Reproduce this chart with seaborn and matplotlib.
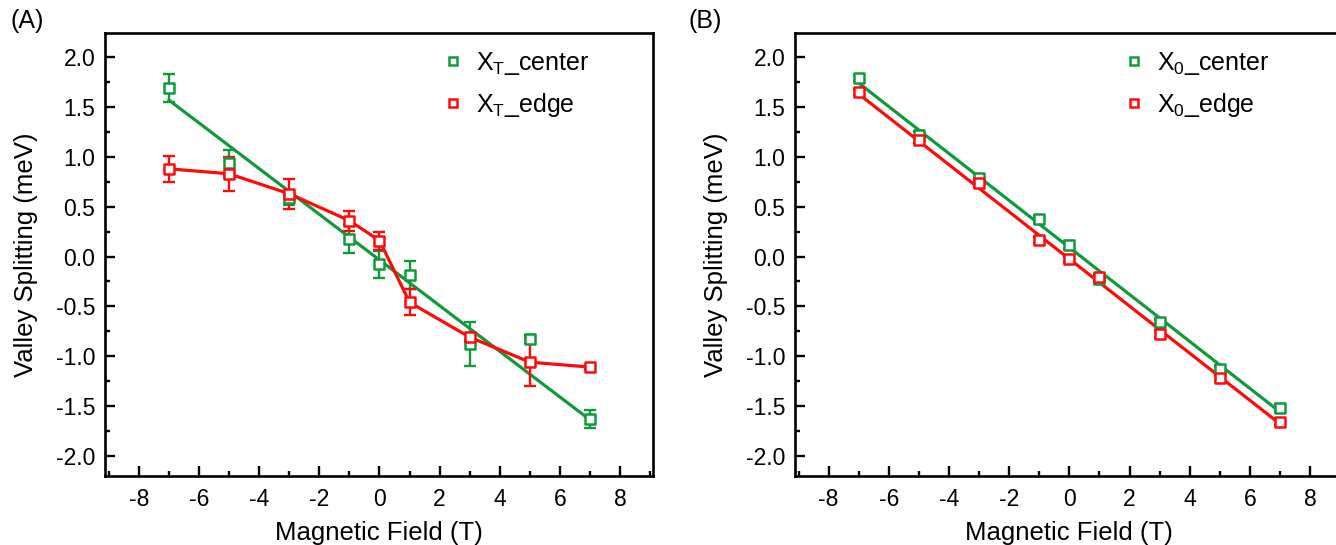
"""
Valley splitting vs magnetic field, trion (A) and exciton (B).
"""

import matplotlib.pyplot as plt
import numpy as np
import pandas as pd
import seaborn as sns
from matplotlib.lines import Line2D
from matplotlib.ticker import MultipleLocator

sns.set_style("ticks")
plt.rcParams["font.family"] = ["Liberation Sans", "DejaVu Sans"]
plt.rcParams["mathtext.fontset"] = "custom"
plt.rcParams["mathtext.rm"] = "Liberation Sans"
plt.rcParams["axes.edgecolor"] = "black"
plt.rcParams["text.color"] = "black"
plt.rcParams["axes.labelcolor"] = "black"
plt.rcParams["xtick.color"] = "black"
plt.rcParams["ytick.color"] = "black"

green = "#109A3B"
red = "#FF0A0A"

# data
field = [-7, -5, -3, -1, 0, 1, 3, 5, 7]

xt_center = [1.69, 0.94, 0.59, 0.18, -0.08, -0.19, -0.88, -0.83, -1.63]
xt_center_err = [0.14, 0.13, 0.07, 0.14, 0.14, 0.14, 0.22, 0.04, 0.09]
xt_edge = [0.88, 0.83, 0.63, 0.36, 0.16, -0.46, -0.81, -1.06, -1.11]
xt_edge_err = [0.13, 0.17, 0.15, 0.10, 0.09, 0.13, 0.04, 0.24, 0.02]

x0_center = [1.79, 1.22, 0.79, 0.38, 0.12, -0.23, -0.66, -1.13, -1.52]
x0_center_err = [0.03, 0.04, 0.04, 0.03, 0.04, 0.05, 0.03, 0.03, 0.04]
x0_edge = [1.65, 1.17, 0.74, 0.17, -0.03, -0.21, -0.78, -1.22, -1.66]
x0_edge_err = [0.03, 0.03, 0.04, 0.03, 0.03, 0.03, 0.04, 0.03, 0.03]

# linear fits (end points)
fit_x = [-7, 7]
xt_center_fit = [1.57, -1.64]
x0_center_fit = [1.74, -1.56]
x0_edge_fit = [1.63, -1.68]

fig = plt.figure(figsize=(13.36, 5.45), dpi=100)
ax_a = fig.add_axes([0.0786, 0.127, 0.41, 0.812])
ax_b = fig.add_axes([0.595, 0.127, 0.41, 0.812])


def points(ax, y, err, color):
    ax.errorbar(field, y, yerr=err, fmt="none", ecolor=color, elinewidth=1.7,
                capsize=4.5, capthick=1.7, zorder=3)
    sns.scatterplot(x=field, y=y, ax=ax, marker="s", s=55, facecolor="white",
                    edgecolor=color, linewidth=1.8, zorder=4, legend=False)


# (A) trion
sns.lineplot(x=fit_x, y=xt_center_fit, ax=ax_a, color=green, linewidth=2.3, zorder=2)
sns.lineplot(x=field, y=xt_edge, ax=ax_a, color=red, linewidth=2.3, zorder=2)
points(ax_a, xt_center, xt_center_err, green)
points(ax_a, xt_edge, xt_edge_err, red)

# (B) neutral exciton
sns.lineplot(x=fit_x, y=x0_center_fit, ax=ax_b, color=green, linewidth=2.3, zorder=2)
sns.lineplot(x=fit_x, y=x0_edge_fit, ax=ax_b, color=red, linewidth=2.3, zorder=2)
points(ax_b, x0_center, x0_center_err, green)
points(ax_b, x0_edge, x0_edge_err, red)

labels = {
    ax_a: [r"X$_\mathregular{T}$_center", r"X$_\mathregular{T}$_edge"],
    ax_b: [r"X$_\mathregular{0}$_center", r"X$_\mathregular{0}$_edge"],
}
legend_x = {ax_a: 0.572, ax_b: 0.556}

for ax in (ax_a, ax_b):
    ax.set_xlim(-9.12, 9.08)
    ax.set_ylim(-2.2, 2.24)
    ax.xaxis.set_major_locator(MultipleLocator(2))
    ax.xaxis.set_minor_locator(MultipleLocator(1))
    ax.yaxis.set_major_locator(MultipleLocator(0.5))
    ax.yaxis.set_minor_locator(MultipleLocator(0.25))
    ax.tick_params(which="both", direction="in", top=False, right=False,
                   width=1.7, labelsize=16.5, pad=7)
    ax.tick_params(axis="x", which="major", pad=9)
    ax.tick_params(which="major", length=7)
    ax.tick_params(which="minor", length=3.5)
    ax.set_xticklabels([f"{int(v)}" for v in ax.get_xticks()])
    ax.set_yticklabels([f"{v:.1f}" for v in ax.get_yticks()])
    for sp in ax.spines.values():
        sp.set_linewidth(1.9)
        sp.set_visible(True)
    ax.set_xlabel("Magnetic Field (T)", fontsize=18.5, labelpad=7)
    ax.set_ylabel("Valley Splitting (meV)", fontsize=18.5, labelpad=13)
    handles = [
        Line2D([], [], linestyle="none", marker="s", markersize=6, mfc="white",
               mec=c, mew=1.8)
        for c in (green, red)
    ]
    ax.legend(handles, labels[ax], loc="upper left",
              bbox_to_anchor=(legend_x[ax], 1.013),
              frameon=False, fontsize=18, handlelength=1.0, handletextpad=0.4,
              labelspacing=0.55)

fig.text(0.008, 0.962, "(A)", fontsize=18, va="center")
fig.text(0.515, 0.962, "(B)", fontsize=18, va="center")

fig.savefig("out.png", dpi=100)
